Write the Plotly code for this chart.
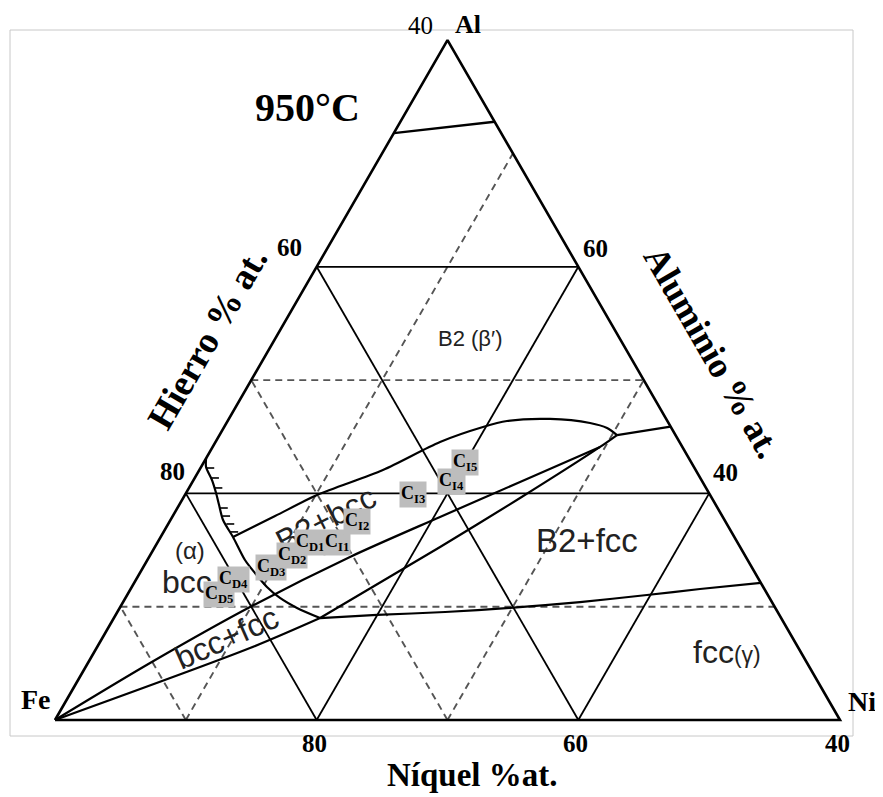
import math
import plotly.graph_objects as go

H = math.sqrt(3) / 2
SIDE = 60  # width of the drawn triangle, in composition %

# ---------------- data (diagram frame: ni = distance from Fe-Al side, al = distance from Fe-Ni side) ----
grid_solid_levels = [20, 40]
grid_dash_al = [10, 30]
grid_dash_ni = [10, 30]
grid_dash_fe = [30, 50]

top_line_ni = [0.0, 7.2]
top_line_al = [51.8, 52.8]

fe_upper_ni = [0, 4.75, 9.92, 15.35, 20.47, 25.04, 29.61]
fe_upper_al = [0, 5.03, 9.97, 14.39, 17.92, 21.01, 24.10]

fe_lower_ni = [0, 11.73, 15.76]
fe_lower_al = [0, 6.35, 9.0]

b2_lower_ni = [15.76, 21.8, 25.75, 29.61, 30.38]
b2_lower_al = [9.0, 15.27, 19.59, 24.10, 25.15]

tie_ni = [30.38, 34.1]
tie_al = [25.15, 25.9]

b2_upper_ni = [5.53, 7.82, 10.1, 14.03, 17.16, 19.78, 21.35, 24.55, 27.79, 29.31, 30.38]
b2_upper_al = [16.15, 18.0, 19.86, 22.07, 24.54, 25.86, 26.39, 26.57, 26.21, 25.77, 25.15]

alpha_ni = [0, 0.38, 1.41, 2.29, 3.05, 4.02, 5.53, 7.46, 8.8, 10.33, 11.81, 13.55, 15.76]
alpha_al = [23.1, 22.33, 21.18, 20.04, 18.98, 17.65, 16.15, 14.12, 12.97, 11.74, 10.77, 9.89, 9.0]

fcc_ni = [15.76, 19.98, 25.05, 29.84, 34.92, 39.73, 43.52, 47.9]
fcc_al = [9.0, 9.27, 9.53, 9.89, 10.41, 11.03, 11.56, 12.1]

hatch_ni = [0.45, 1.25, 1.95, 3.25, 3.78, 4.45, 5.1]
hatch_al = [22.24, 21.36, 20.48, 18.71, 18.0, 17.3, 16.6]

sample_names = ["D5", "D4", "D3", "D2", "D1", "I1", "I2", "I3", "I4", "I5"]
sample_ni = [6.98, 7.46, 9.8, 10.84, 11.64, 13.7, 14.3, 17.43, 19.77, 19.95]
sample_al = [11.12, 12.44, 13.42, 14.56, 15.71, 15.71, 17.56, 19.86, 21.01, 22.77]

left_ticks = ["60", "80"]
right_ticks = ["60", "40"]
bottom_ticks = ["80", "60", "40"]

# ---------------- helpers ----------------
def tern(ni, al):
    xs, ys = [], []
    for n, a in zip(ni, al):
        if n is None:
            xs.append(None); ys.append(None)
        else:
            xs.append(n + a / 2); ys.append(a * H)
    return xs, ys

def iso_al(v):
    return [0, SIDE - v], [v, v]

def iso_ni(v):
    return [v, v], [0, SIDE - v]

def iso_fe(v):
    return [SIDE - v, 0], [0, SIDE - v]

def join(segs):
    ni, al = [], []
    for n, a in segs:
        ni += n + [None]
        al += a + [None]
    return ni, al

# page layout helper: the page body has an 8 px margin, so the figure sits at (8, 8)
OFF = 8
W, HGT = 883 - OFF, 797 - OFF
S = 785 / 60            # px per composition unit
FE_X, FE_Y = 55, 720    # Fe corner in page pixels

def P(x, y):
    return (x - FE_X) / S, (FE_Y - y) / S

fig = go.Figure()

def add_line(ni, al, color="black", width=2, dash=None, shape="linear"):
    xs, ys = tern(ni, al)
    fig.add_trace(go.Scatter(x=xs, y=ys, mode="lines", hoverinfo="skip", showlegend=False,
                             line=dict(color=color, width=width, dash=dash, shape=shape,
                                       smoothing=0.8 if shape == "spline" else None)))

# dashed grid
dsegs = [iso_al(v) for v in grid_dash_al] + [iso_ni(v) for v in grid_dash_ni] + [iso_fe(v) for v in grid_dash_fe]
n, a = join(dsegs)
add_line(n, a, color="#555555", width=1.9, dash="7px,5px")

# solid grid
ssegs = []
for v in grid_solid_levels:
    ssegs += [iso_al(v), iso_ni(v), iso_fe(v)]
n, a = join(ssegs)
add_line(n, a, color="black", width=1.8)

# triangle
add_line([0, SIDE, 0, 0], [0, 0, SIDE, 0], color="black", width=2.6)

# phase boundaries
add_line(top_line_ni, top_line_al, width=2.4)
add_line(fe_upper_ni, fe_upper_al, width=2.2, shape="spline")
add_line(fe_lower_ni, fe_lower_al, width=2.2, shape="spline")
add_line(b2_lower_ni, b2_lower_al, width=2.2, shape="spline")
add_line(tie_ni, tie_al, width=2.2)
add_line(b2_upper_ni, b2_upper_al, width=2.2, shape="spline")
add_line(alpha_ni, alpha_al, width=2.2, shape="spline")
add_line(fcc_ni, fcc_al, width=2.2, shape="spline")

# hatch ticks on the alpha boundary
hn, ha = [], []
for n0, a0 in zip(hatch_ni, hatch_al):
    hn += [n0, n0 + 0.6, None]
    ha += [a0, a0, None]
add_line(hn, ha, width=1.6)

ann = []
SERIF = "Liberation Serif"
SANS = "Liberation Sans"

def text(x, y, t, size, family=SERIF, weight="bold", angle=0, color="black"):
    dx, dy = P(x, y)
    ann.append(dict(x=dx, y=dy, xref="x", yref="y", text=t, showarrow=False, textangle=angle,
                    font=dict(family=family, size=size, color=color, weight=weight),
                    xanchor="center", yanchor="middle"))

# phase labels
text(470, 338, "B2 (β′)", 22, SANS, "normal", color="#222")
text(587, 540, "B2+fcc", 33, SANS, "normal", color="#222")
text(727, 652, "fcc<span style='font-size:23px'>(γ)</span>", 32, SANS, "normal", color="#222")
text(190, 550, "(α)", 24, SANS, "normal", color="#222")
text(187, 582, "bcc", 32, SANS, "normal", color="#222")
text(226, 638, "bcc+fcc", 32, SANS, "normal", angle=-24, color="#222")
text(326, 519, "B2+bcc", 32, SANS, "normal", angle=-27, color="#222")

# sample labels
for name, n0, a0 in zip(sample_names, sample_ni, sample_al):
    xs, ys = tern([n0], [a0])
    ann.append(dict(x=xs[0], y=ys[0], xref="x", yref="y",
                    text="C<sub>" + name + "</sub>",
                    showarrow=False, bgcolor="#bdbdbd", borderpad=1,
                    font=dict(family=SERIF, size=18, color="black", weight="bold"),
                    xanchor="center", yanchor="middle"))

# titles / axis texts
text(307, 107, "950°C", 40)
text(420, 25, "40", 25, weight="normal")
text(468, 24, "Al", 26)
text(36, 699, "Fe", 28)
text(862, 701, "Ni", 28)
for t, (x, y) in zip(left_ticks, [(289, 247), (172, 471)]):
    text(x, y, t, 25)
for t, (x, y) in zip(right_ticks, [(595, 248), (725, 472)]):
    text(x, y, t, 25)
for t, (x, y) in zip(bottom_ticks, [(314, 743), (575, 743), (837, 743)]):
    text(x, y, t, 25)
text(472, 775, "Níquel %at.", 33)
text(207, 338, "Hierro % at.", 37, angle=-60)
text(712, 352, "Aluminio % at.", 36, angle=60)

bx0, by0 = P(10, 30)
bx1, by1 = P(853, 736)
xr0, yr1 = P(OFF, OFF)
xr1, yr0 = P(OFF + W, OFF + HGT)

fig.update_layout(
    width=W, height=HGT, autosize=False,
    margin=dict(l=0, r=0, t=0, b=0),
    paper_bgcolor="white", plot_bgcolor="white",
    xaxis=dict(range=[xr0, xr1], visible=False, fixedrange=True),
    yaxis=dict(range=[yr0, yr1], visible=False, fixedrange=True),
    annotations=ann,
    shapes=[dict(type="rect", xref="x", yref="y", x0=bx0, y0=by1, x1=bx1, y1=by0,
                 line=dict(color="#c8c8c8", width=1), layer="below")],
)

fig.write_html("out.html")
